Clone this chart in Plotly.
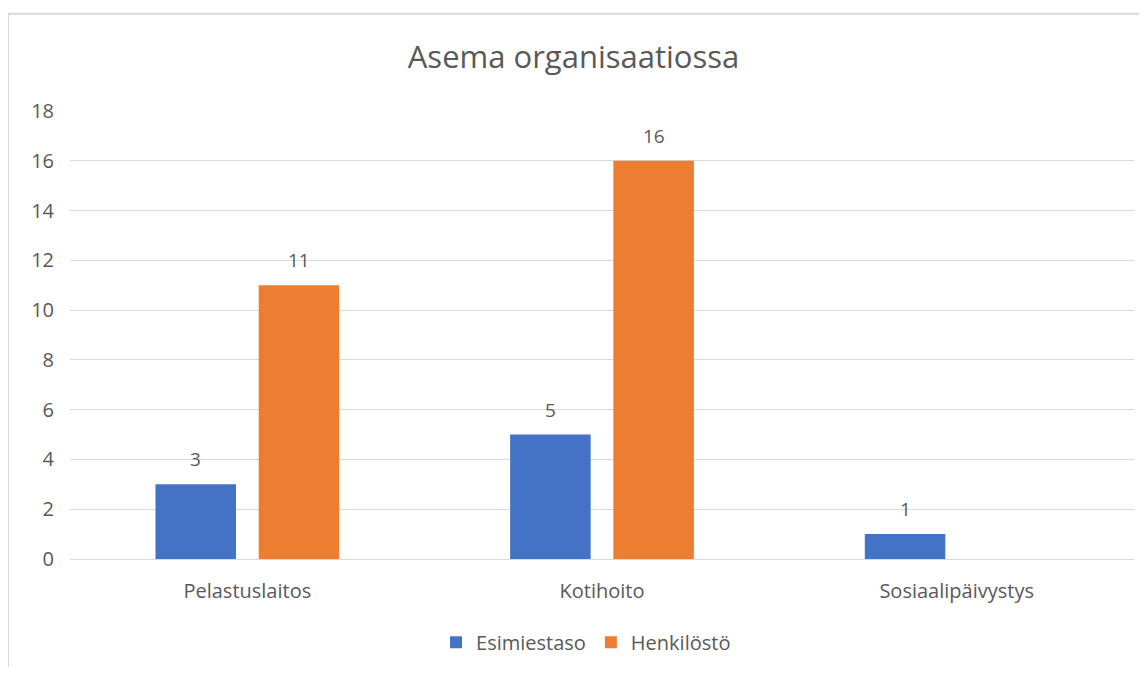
import plotly.graph_objects as go

categories = ["Pelastuslaitos", "Kotihoito", "Sosiaalipäivystys"]
esimiestaso = [3, 5, 1]
henkilosto = [11, 16, None]
series_names = ["Esimiestaso", "Henkilöstö"]
y_ticks = list(range(0, 19, 2))

BLUE = "#4472C4"
ORANGE = "#ED7D31"
TEXT = "#595959"
FONT = "Open Sans"

W, H = 1131, 659
ML, MR, MT, MB = 62, 5, 103, 104

fig = go.Figure()
fig.add_trace(go.Bar(x=categories, y=esimiestaso, name=series_names[0],
                     marker=dict(color=BLUE, line=dict(width=0))))
fig.add_trace(go.Bar(x=categories, y=henkilosto, name=series_names[1],
                     marker=dict(color=ORANGE, line=dict(width=0))))

# data labels above each bar
plot_w = W - ML - MR
slot = plot_w / len(categories) * (1 - 0.418) / 2
for vals, shift in [(esimiestaso, -slot / 2), (henkilosto, slot / 2)]:
    for cat, v in zip(categories, vals):
        if v is None:
            continue
        fig.add_annotation(x=cat, y=v, text=str(v), showarrow=False,
                           xshift=shift, yshift=25, yanchor="middle",
                           font=dict(family=FONT, size=19, color=TEXT))

# light chart border (Excel style)
plot_h = H - MT - MB
fig.add_shape(type="rect", xref="paper", yref="paper",
              x0=-ML / plot_w, x1=(plot_w + MR + 20) / plot_w,
              y0=-(MB + 20) / plot_h, y1=1 + (MT - 5) / plot_h,
              line=dict(color="#D9D9D9", width=2), layer="below")

fig.update_layout(
    width=W, height=H,
    margin=dict(l=ML, r=MR, t=MT, b=MB),
    paper_bgcolor="white", plot_bgcolor="white",
    title=dict(text="Asema organisaatiossa", x=0.5, xanchor="center",
               y=1 - 49 / H, yanchor="middle", yref="container",
               font=dict(family=FONT, size=31, color=TEXT)),
    barmode="group", bargap=0.418, bargroupgap=0.22,
    font=dict(family=FONT, size=20, color=TEXT),
    showlegend=True,
    legend=dict(orientation="h", x=0.485, xanchor="center", y=-84 / plot_h,
                yanchor="middle", font=dict(family=FONT, size=20, color=TEXT),
                itemwidth=30),
)
fig.update_yaxes(range=[0, 18], tickvals=y_ticks, showgrid=True,
                 gridcolor="#D9D9D9", gridwidth=1, zeroline=False,
                 showline=False, ticks="", ticklabelstandoff=15,
                 tickfont=dict(family=FONT, size=20, color=TEXT))
fig.update_xaxes(showline=True, linecolor="#D9D9D9", linewidth=1, ticks="",
                 ticklabelstandoff=14,
                 tickfont=dict(family=FONT, size=20, color=TEXT))

fig.write_html("out.html")
